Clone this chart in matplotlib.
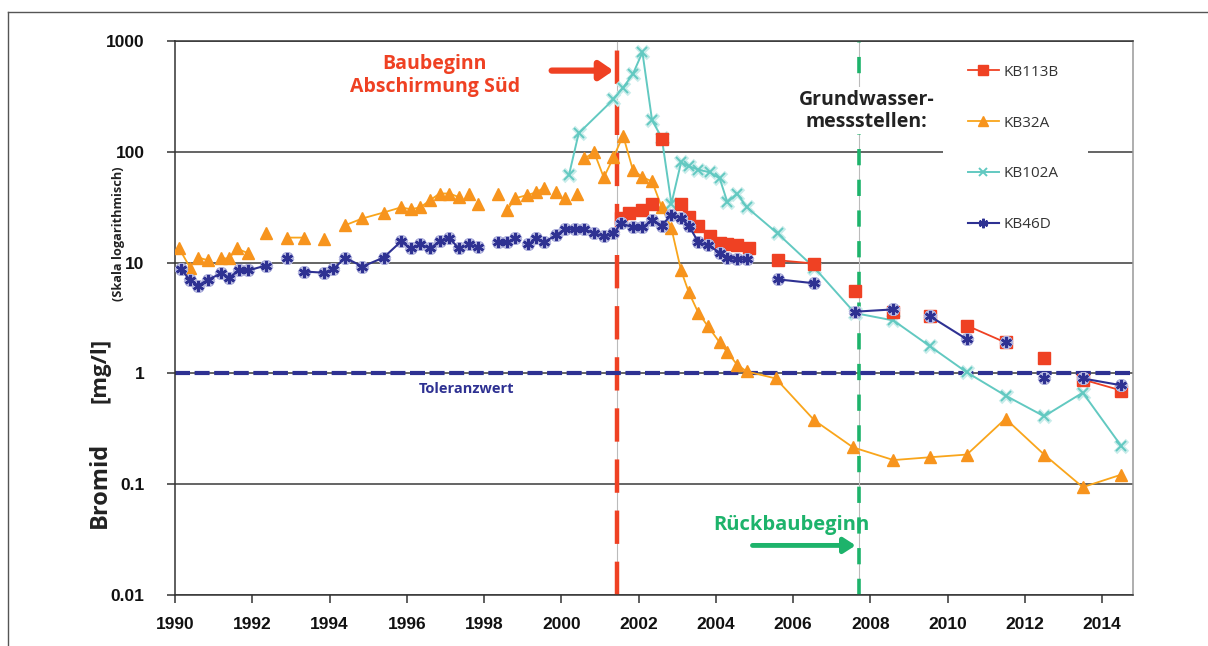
import numpy as np
import matplotlib.pyplot as plt
from matplotlib.lines import Line2D
from matplotlib.patches import Rectangle

plt.rcParams['font.family'] = ['Open Sans', 'DejaVu Sans']

# Messwerte Bromid [mg/l], None = Lücke in der Linie
kb113b_jahr = [2001.55, 2001.75, None, 2002.1, 2002.35, None, 2002.6, None, 2003.1, None,
               2003.3, 2003.55, 2003.85, 2004.1, 2004.3, 2004.55, 2004.85, None,
               2005.6, 2006.55, None, 2007.6, None, 2008.6, None, 2009.55, None,
               2010.5, 2011.5, None, 2012.5, None, 2013.5, 2014.5]
kb113b_wert = [25, 27.8, None, 30, 33.5, None, 130, None, 34, None,
               25.6, 21.6, 17.2, 14.9, 14.6, 14.3, 13.5, None,
               10.5, 9.8, None, 5.5, None, 3.6, None, 3.3, None,
               2.7, 1.9, None, 1.38, None, 0.88, 0.70]

kb32a_jahr = [1990.1, 1990.4, None, 1990.6, 1990.85, None, 1991.2, 1991.4, 1991.6, 1991.9, None,
              1992.35, None, 1992.9, 1993.35, None, 1993.85, None,
              1994.4, 1994.85, 1995.4, 1995.85, 1996.1, 1996.35, 1996.6, 1996.85, 1997.1,
              1997.35, None, 1997.6, None, 1997.85, None, 1998.35, None,
              1998.6, 1998.8, 1999.1, 1999.35, 1999.55, None, 1999.85, None, 2000.1, None, 2000.4, None,
              2000.6, 2000.85, 2001.1, 2001.35, 2001.6, 2001.85, 2002.1, 2002.35, 2002.6, 2002.85,
              2003.1, 2003.3, 2003.55, 2003.8, 2004.1, 2004.3, 2004.55, 2004.8, 2005.55, 2006.55,
              2007.55, 2008.6, 2009.55, 2010.5, 2011.5, 2012.5, 2013.5, 2014.5]
kb32a_wert = [13.5, 8.9, None, 11.1, 10.5, None, 10.9, 10.9, 13.4, 12.1, None,
              18.3, None, 16.8, 16.8, None, 16.2, None,
              21.7, 25, 28.3, 31.5, 30.3, 31.5, 36.5, 42, 42,
              39, None, 42, None, 34, None, 42, None,
              29.6, 38, 40.5, 43, 47.5, None, 43, None, 38, None, 42, None,
              87, 99, 58.6, 89, 140, 69, 59, 54, 31.6, 20.4,
              8.5, 5.4, 3.5, 2.65, 1.9, 1.55, 1.2, 1.04, 0.9, 0.377,
              0.215, 0.165, 0.175, 0.185, 0.39, 0.185, 0.094, 0.122]

kb102a_jahr = [2000.2, 2000.45, 2001.35, 2001.6, 2001.85, 2002.1, 2002.35, 2002.6, 2002.85,
               2003.1, 2003.3, 2003.55, 2003.85, 2004.1, 2004.3, 2004.55, 2004.8, 2005.6,
               2006.55, 2007.6, 2008.6, 2009.55, 2010.5, 2011.5, 2012.5, 2013.5, 2014.5]
kb102a_wert = [62, 147, 297, 380, 500, 790, 192, 134, 34,
               80, 74, 69, 65, 57.5, 35, 42, 31.6, 18.3,
               9.0, 3.5, 3.0, 1.75, 1.02, 0.63, 0.41, 0.67, 0.22]

kb46d_jahr = [1990.15, 1990.4, 1990.6, 1990.85, 1991.2, 1991.4, 1991.65, 1991.9, 1992.35, None,
              1992.9, None, 1993.35, 1993.85, 1994.1, 1994.4, 1994.85, 1995.4, 1995.85, 1996.1,
              1996.35, 1996.6, 1996.85, 1997.1, 1997.35, None, 1997.6, None, 1997.85, None,
              1998.35, 1998.6, 1998.8, None, 1999.15, 1999.35, 1999.55, 1999.85, 2000.1, 2000.35,
              2000.6, 2000.85, 2001.1, 2001.35, 2001.55, 2001.85, 2002.1, 2002.35, 2002.6, 2002.85,
              2003.1, 2003.3, 2003.55, 2003.8, 2004.1, 2004.3, 2004.55, 2004.8, None,
              2005.6, 2006.55, None, 2007.6, 2008.6, None, 2009.55, 2010.5, None, 2011.5, None,
              2012.5, None, 2013.5, 2014.5]
kb46d_wert = [8.7, 6.9, 6.2, 7.0, 8.0, 7.3, 8.5, 8.5, 9.4, None,
              11.1, None, 8.3, 8.1, 8.7, 11.1, 9.2, 11.1, 15.5, 13.4,
              14.6, 13.4, 15.5, 16.6, 13.4, None, 14.6, None, 13.7, None,
              15.2, 15.2, 16.5, None, 14.6, 16.5, 15.2, 17.6, 20, 20,
              20, 18.3, 17.3, 18.3, 22.6, 20.8, 20.8, 24, 21.6, 27,
              25, 21.6, 15.2, 14.3, 12.3, 11.1, 10.7, 10.7, None,
              7.06, 6.5, None, 3.6, 3.78, None, 3.27, 2.03, None, 1.9, None,
              0.9, None, 0.90, 0.78]

toleranzwert = 1.0
baubeginn = 2001.45
rueckbaubeginn = 2007.7

x_ticks = list(range(1990, 2015, 2))
y_ticks = [0.01, 0.1, 1, 10, 100, 1000]
y_labels = ['0.01', '0.1', '1', '10', '100', '1000']

rot = '#EF4123'
orange = '#F7941D'
tuerkis = '#62C9C1'
blau = '#2E3192'
gruen = '#1DB36B'


def arr(v):
    return np.array(v, dtype=float)


fig = plt.figure(figsize=(12.08, 6.46), dpi=100)
ax = fig.add_axes([0.1449, 0.0790, 0.7930, 0.8576])

# Rahmen um die Grafik
fig.add_artist(Line2D([0.0066, 0.0066], [0, 0.9814], color='#555555', lw=1))
fig.add_artist(Line2D([0.0066, 1.0], [0.9814, 0.9814], color='#555555', lw=1))

ax.set_yscale('log')
ax.set_xlim(1990, 2014.8)
ax.set_ylim(0.01, 1000)
for y in y_ticks:
    ax.axhline(y, color='#3a3a3a', lw=1.1, zorder=1)

# Vertikale Markierungen
ax.axvline(baubeginn, color='#bbbbbb', lw=0.8, zorder=1)
ax.axvline(baubeginn, color=rot, lw=3.2, dashes=(7.5, 4), zorder=2)
ax.axvline(rueckbaubeginn, color='#bbbbbb', lw=0.8, zorder=1)
ax.axvline(rueckbaubeginn, color=gruen, lw=2.6, dashes=(4.5, 4), zorder=2)

# Toleranzwert
ax.axhline(toleranzwert, color=blau, lw=3, dashes=(3.6, 1.1), zorder=2)
ax.text(1997.55, 0.72, 'Toleranzwert', color=blau, fontsize=10.5, fontweight='bold',
        ha='center', va='center')

# Messreihen
x, y = arr(kb102a_jahr), arr(kb102a_wert)
ax.plot(x, y, ls='none', marker='x', ms=8, mew=3.5, color='#c9ecea', zorder=3)
l102, = ax.plot(x, y, color=tuerkis, lw=1.4, marker='x', ms=7, mew=1.4, zorder=4)

x, y = arr(kb32a_jahr), arr(kb32a_wert)
l32, = ax.plot(x, y, color='#F9A51B', lw=1.3, marker='^', ms=9, mfc=orange, mec=orange, zorder=5)

x, y = arr(kb113b_jahr), arr(kb113b_wert)
l113, = ax.plot(x, y, color=rot, lw=1.3, marker='s', ms=9, mfc=rot, mec=rot, zorder=6)

x, y = arr(kb46d_jahr), arr(kb46d_wert)
ax.plot(x, y, ls='none', marker=(6, 2, 0), ms=9, mew=4, color='#b4b6de', zorder=7)
l46, = ax.plot(x, y, color=blau, lw=1.5, marker=(6, 2, 0), ms=8, mew=1.8, zorder=8)

# Pfeile und Beschriftungen
ax.annotate('', xy=(2001.35, 540), xytext=(1999.75, 540),
            arrowprops=dict(arrowstyle='-|>,head_length=0.8,head_width=0.55', color=rot, lw=4.5,
                            shrinkA=0, shrinkB=0), zorder=9)
ax.text(1996.72, 490, 'Baubeginn\nAbschirmung Süd', color=rot, fontsize=14, fontweight='bold',
        ha='center', va='center', linespacing=1.2)

ax.annotate('', xy=(2007.62, 0.028), xytext=(2004.95, 0.028),
            arrowprops=dict(arrowstyle='-|>,head_length=0.7,head_width=0.45', color=gruen, lw=3.5,
                            shrinkA=0, shrinkB=0), zorder=9)
ax.text(2005.95, 0.043, 'Rückbaubeginn', color=gruen, fontsize=14.5, fontweight='bold',
        ha='center', va='center')

ax.text(2007.9, 235, 'Grundwasser-\nmessstellen:', color='#222222', fontsize=14, fontweight='bold',
        ha='center', va='center', linespacing=1.15, zorder=10,
        bbox=dict(facecolor='white', edgecolor='none', pad=2))

# weisser Hintergrund der Legende
ax.add_patch(Rectangle((0.7806, 0.6207), 0.12, 0.305, transform=fig.transFigure,
                       facecolor='white', edgecolor='none', zorder=10))
leg = ax.legend([l113, l32, l102, l46], ['KB113B', 'KB32A', 'KB102A', 'KB46D'],
                loc='upper left', bbox_to_anchor=(0.8013, 0.900), bbox_transform=fig.transFigure,
                fontsize=11, labelspacing=2.35, handlelength=2.0, handletextpad=0.3,
                borderpad=0, borderaxespad=0, frameon=False, markerscale=0.85)
leg.set_zorder(11)
for t in leg.get_texts():
    t.set_color('#333333')

# Achsen
for s in ax.spines.values():
    s.set_color('#333333')
    s.set_linewidth(1.1)
ax.spines['right'].set_color('#999999')
ax.set_xticks(x_ticks)
ax.set_xticklabels([str(t) for t in x_ticks])
ax.set_yticks(y_ticks)
ax.set_yticklabels(y_labels)
ax.minorticks_off()
ax.tick_params(axis='y', length=6, width=1.1, pad=16, color='#333333')
ax.tick_params(axis='x', length=6, width=1.1, pad=10, color='#333333')
for lab in ax.get_xticklabels() + ax.get_yticklabels():
    lab.set_family(['Liberation Sans Narrow', 'Liberation Sans'])
    lab.set_fontweight('bold')
    lab.set_fontsize(12.5)
    lab.set_color('#111111')

fig.text(0.083, 0.249, 'Bromid', rotation=90, fontsize=17, fontweight='bold',
         ha='center', va='center', color='#222222')
fig.text(0.083, 0.427, '[mg/l]', rotation=90, fontsize=16, fontweight='bold',
         ha='center', va='center', color='#222222')
fig.text(0.098, 0.638, '(Skala logarithmisch)', rotation=90, fontsize=9.2, fontweight='bold',
         ha='center', va='center', color='#222222')

fig.savefig('out.png', dpi=100)
